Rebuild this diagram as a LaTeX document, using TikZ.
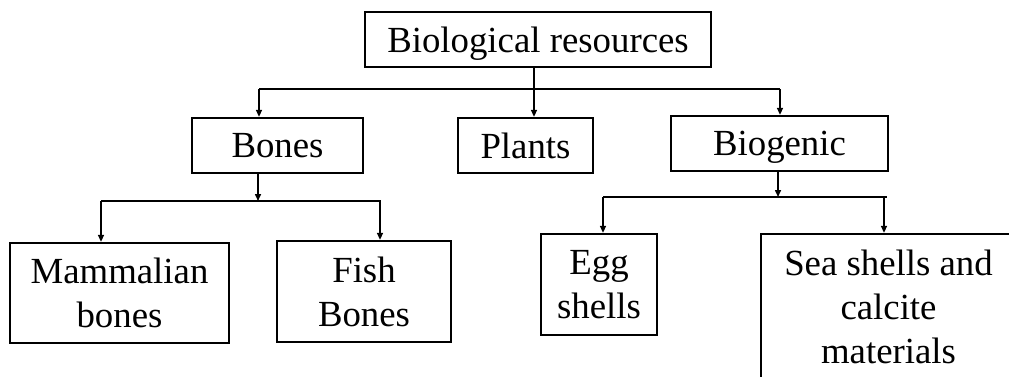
\documentclass[tikz,border=0pt]{standalone}
\usepackage{fontspec}
\setmainfont{Liberation Serif}
\usepackage{tikz}
\usetikzlibrary{arrows.meta,positioning}

\begin{document}
\begin{tikzpicture}[
  x=1pt,y=-1pt,
  font=\fontsize{36.8}{44}\selectfont,
  box/.style={draw=black,line width=2.3pt,inner sep=0pt,align=center},
  single/.style={box,text depth=0pt,minimum height=55pt},
  ln/.style={draw=black,line width=1.5pt},
  ar/.style={ln,-{Triangle[length=7pt,width=6pt]}},
]
\useasboundingbox (0,0) rectangle (1009,376);
\clip (0,0) rectangle (1009,376);

% ---- Root
\node[single,minimum width=346pt] (root) at (538,39.5) {Biological resources};

% ---- Second level
\node[single,minimum width=171pt] (bones)    at (277.5,145.5) {Bones};
\node[single,minimum width=135pt] (plants)   at (525.5,145.5) {Plants};
\node[single,minimum width=217pt] (biogenic) at (779.5,143.5) {Biogenic};

% ---- Third level
\node[box,minimum width=219pt,minimum height=100pt] (mammal) at (119.5,293) {Mammalian\\bones};
\node[box,minimum width=174pt,minimum height=101pt] (fish)   at (364,291.5) {Fish\\Bones};
\node[box,minimum width=116pt,minimum height=101pt] (egg)    at (599,284.5) {Egg\\shells};
\node[box,minimum width=255pt,minimum height=146pt] (sea)    at (888.5,307) {Sea shells and\\calcite\\materials};

% ---- Junctions
\coordinate (rj) at (534,89);
\coordinate (rl) at (259,89);
\coordinate (rr) at (780,89);
\coordinate (bj) at (258,201);
\coordinate (bl) at (101,201);
\coordinate (br) at (381,201);
\coordinate (gj) at (778,197);
\coordinate (gl) at (603,197);
\coordinate (gr) at (887,197);

% ---- Arrows
\draw[ar] (rj |- root.south) -- (rj |- plants.north);
\draw[ln] (rl) -- (rr);
\draw[ar] (rl) -- (rl |- bones.north);
\draw[ar] (rr) -- (rr |- biogenic.north);

\draw[ar] (bj |- bones.south) -- (bj);
\draw[ln] (bl) -- (br);
\draw[ar] (bl) -- (bl |- mammal.north);
\draw[ar] ([xshift=-1pt]br) -- ([xshift=-1pt]br |- fish.north);

\draw[ar] (gj |- biogenic.south) -- (gj);
\draw[ln] (gl) -- (gr);
\draw[ar] (gl) -- (gl |- egg.north);
\draw[ar] ([xshift=-3pt]gr) -- ([xshift=-3pt]gr |- sea.north);

\end{tikzpicture}
\end{document}
